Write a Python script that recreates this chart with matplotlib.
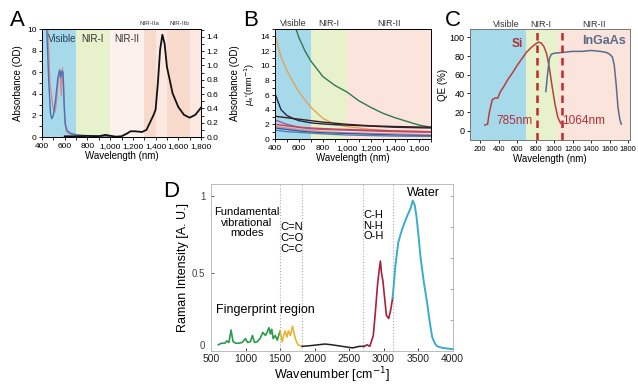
import numpy as np
import matplotlib
matplotlib.use('Agg')
import matplotlib.pyplot as plt
from matplotlib.ticker import FuncFormatter, MultipleLocator

plt.rcParams['font.family'] = ['Liberation Sans', 'DejaVu Sans']
plt.rcParams['font.size'] = 7
plt.rcParams['axes.linewidth'] = 0.7
plt.rcParams['xtick.major.width'] = 0.6
plt.rcParams['ytick.major.width'] = 0.6
plt.rcParams['xtick.major.size'] = 2.5
plt.rcParams['ytick.major.size'] = 2.5

# ---- panel A data ----
a_blue_x = [400, 440, 460, 475, 485, 500, 520, 540, 555, 565, 575, 585, 595, 605, 620, 650, 700, 800, 900, 1000]
a_blue_y = [12, 10.5, 5, 2.2, 1.7, 2.0, 3.5, 5.5, 6.2, 5.5, 6.1, 6.0, 3.0, 1.2, 0.6, 0.35, 0.2, 0.12, 0.1, 0.08]
a_pink_x = [400, 450, 470, 495, 515, 530, 545, 558, 570, 580, 590, 600, 615, 640, 700, 800, 1000]
a_pink_y = [12, 10.5, 5, 2.8, 2.3, 3.5, 5.5, 6.2, 3.8, 6.4, 5.0, 1.5, 0.5, 0.3, 0.15, 0.1, 0.08]
a_water_x = [600, 700, 800, 900, 960, 990, 1050, 1100, 1150, 1180, 1220, 1280, 1320, 1350, 1380, 1400,
             1420, 1440, 1460, 1480, 1500, 1550, 1600, 1650, 1700, 1750, 1800]
a_water_y = [0.01, 0.01, 0.015, 0.01, 0.03, 0.02, 0.005, 0.01, 0.05, 0.08, 0.08, 0.07, 0.1, 0.2, 0.3, 0.38,
             0.75, 1.22, 1.43, 1.3, 0.98, 0.61, 0.42, 0.31, 0.27, 0.31, 0.41]

# ---- panel B data (scattering curves) ----
b_green_x = [575, 600, 650, 700, 800, 900, 1000, 1100, 1200, 1300, 1400, 1500, 1600, 1700]
b_green_y = [15, 13.8, 12, 10.6, 8.5, 7.3, 6.4, 5.2, 4.3, 3.5, 2.9, 2.4, 1.9, 1.6]
b_x = [400, 450, 500, 550, 600, 650, 700, 800, 900, 1000, 1200, 1400, 1700]
b_orange = [14.2, 11.2, 9.3, 7.8, 6.4, 5.3, 4.3, 2.8, 2.0, 1.7, 1.3, 1.1, 1.0]
b_navy = [6.2, 4.0, 3.2, 2.8, 2.5, 2.35, 2.2, 2.05, 1.95, 1.9, 1.75, 1.6, 1.5]
b_brown = [3.1, 3.0, 2.9, 2.8, 2.7, 2.6, 2.5, 2.3, 2.15, 2.0, 1.8, 1.7, 1.6]
b_purple = [2.6, 2.3, 2.0, 1.8, 1.6, 1.5, 1.4, 1.3, 1.25, 1.2, 1.1, 1.0, 0.9]
b_red = [2.0, 1.9, 1.8, 1.7, 1.6, 1.55, 1.5, 1.42, 1.35, 1.3, 1.2, 1.1, 1.0]
b_salmon = [1.7, 1.6, 1.5, 1.4, 1.3, 1.2, 1.15, 1.0, 0.92, 0.85, 0.78, 0.7, 0.6]
b_blue = [1.5, 1.4, 1.3, 1.2, 1.1, 1.02, 0.95, 0.85, 0.8, 0.75, 0.65, 0.55, 0.45]
b_steel = [1.2, 1.1, 1.0, 0.95, 0.9, 0.85, 0.8, 0.7, 0.62, 0.55, 0.47, 0.4, 0.35]
b_colors = ['#e0a45c', '#1c2a4c', '#3b1c1c', '#8a64a8', '#d2404e', '#e88a84', '#3a58a8', '#4a86b4']

# ---- panel C data (detector QE) ----
si_x = [250, 280, 300, 330, 360, 390, 420, 460, 500, 550, 600, 650, 700, 750, 800, 830, 860, 890, 920, 950, 980, 1010, 1040, 1070]
si_y = [6, 7, 20, 33, 35, 35, 42, 48, 55, 62, 70, 77, 84, 89, 93, 95, 94, 90, 82, 66, 46, 28, 14, 8]
ingaas_x = [910, 930, 950, 970, 1000, 1100, 1200, 1300, 1400, 1500, 1560, 1600, 1630, 1650, 1670, 1690, 1710, 1725]
ingaas_y = [42, 62, 78, 82, 83, 84, 85, 85, 86, 85, 84, 82, 79, 70, 50, 25, 12, 7]
laser_lines = [810, 1085]

# ---- panel D data (Raman spectrum) ----
d_fp_x = [606, 650, 700, 730, 760, 790, 820, 860, 900, 950, 1000, 1030, 1070, 1100, 1130, 1170, 1210,
          1250, 1290, 1320, 1340, 1360, 1380, 1400, 1430, 1460, 1500]
d_fp_y = [0.04, 0.05, 0.05, 0.065, 0.055, 0.135, 0.06, 0.05, 0.05, 0.055, 0.08, 0.055, 0.06, 0.1, 0.055, 0.06, 0.08,
          0.12, 0.1, 0.13, 0.15, 0.11, 0.14, 0.08, 0.1, 0.07, 0.13]
d_cn_x = [1500, 1530, 1570, 1600, 1620, 1650, 1680, 1720, 1760, 1820]
d_cn_y = [0.13, 0.06, 0.13, 0.09, 0.13, 0.1, 0.16, 0.08, 0.04, 0.03]
d_mid_x = [1820, 1950, 2050, 2150, 2250, 2400, 2550, 2650, 2720]
d_mid_y = [0.03, 0.035, 0.04, 0.045, 0.04, 0.03, 0.02, 0.03, 0.03]
d_ch_x = [2720, 2760, 2800, 2850, 2880, 2910, 2935, 2953, 2970, 2990, 3010, 3040, 3073, 3100, 3130]
d_ch_y = [0.03, 0.04, 0.03, 0.1, 0.25, 0.42, 0.52, 0.58, 0.5, 0.45, 0.36, 0.23, 0.21, 0.26, 0.34]
d_w_x = [3130, 3170, 3212, 3250, 3287, 3340, 3390, 3422, 3450, 3475, 3510, 3533, 3580, 3630, 3670, 3703, 3740, 3775, 3850, 4000]
d_w_y = [0.34, 0.55, 0.7, 0.76, 0.81, 0.87, 0.92, 0.97, 0.94, 0.87, 0.72, 0.61, 0.45, 0.31, 0.18, 0.09, 0.05, 0.03, 0.02, 0.012]
d_lines = [1500, 1820, 2700, 3130]

W, H = 638, 385
fig = plt.figure(figsize=(W / 100, H / 100), dpi=100)


def box(l, t, r, b):
    return [l / W, 1 - b / H, (r - l) / W, (b - t) / H]


comma = FuncFormatter(lambda v, p: f'{v:,.0f}')
c_blue, c_green, c_pink = '#a6daea', '#e7f1cc', '#fbe4dc'

# ================= A =================
ax = fig.add_axes(box(42, 29, 201, 137))
bands = [(400, 700, c_blue), (700, 1000, c_green), (1000, 1300, '#fdf1ed'), (1300, 1400, '#f8dacd'),
         (1400, 1500, '#fbe8e1'), (1500, 1700, '#f8dacd'), (1700, 1800, '#fbe8e1')]
for x0, x1, c in bands:
    ax.axvspan(x0, x1, color=c, lw=0)
ax.plot(a_pink_x, a_pink_y, color='#d98a98', lw=1)
ax.plot(a_blue_x, a_blue_y, color='#4a70b4', lw=1)
ax.set_xlim(400, 1800)
ax.set_ylim(0, 10)
ax.xaxis.set_major_locator(MultipleLocator(200))
ax.xaxis.set_minor_locator(MultipleLocator(100))
ax.yaxis.set_minor_locator(MultipleLocator(1))
ax.xaxis.set_major_formatter(comma)
ax.set_ylabel('Absorbance (OD)', labelpad=3)
ax.set_xlabel('Wavelength (nm)', labelpad=1)
ax.tick_params(labelsize=6, pad=1.5)
ax.text(575, 9.1, 'Visible', ha='center', va='center', fontsize=7, color='#22405a')
ax.text(840, 9.1, 'NIR-I', ha='center', va='center', fontsize=7, color='#333333')
ax.text(1150, 9.1, 'NIR-II', ha='center', va='center', fontsize=7, color='#333333')
ax.text(1345, 10.55, 'NIR-IIa', ha='center', va='center', fontsize=4.5, color='#333333')
ax.text(1610, 10.55, 'NIR-IIb', ha='center', va='center', fontsize=4.5, color='#333333')
ax2 = ax.twinx()
ax2.plot(a_water_x, a_water_y, color='#111111', lw=1.3)
ax2.set_ylim(0, 1.51)
ax2.yaxis.set_major_locator(MultipleLocator(0.2))
ax2.yaxis.set_minor_locator(MultipleLocator(0.1))
ax2.yaxis.set_major_formatter(FuncFormatter(lambda v, p: f'{v:.1f}'))
ax2.tick_params(labelsize=6, pad=1.5)
ax2.set_ylabel('Absorbance (OD)', labelpad=8)
fig.text(10 / W, 1 - 20 / H, 'A', fontsize=16, va='center')

# ================= B =================
ax = fig.add_axes(box(275, 29, 431, 139))
for x0, x1, c in [(400, 700, c_blue), (700, 1000, c_green), (1000, 1700, c_pink)]:
    ax.axvspan(x0, x1, color=c, lw=0)
ax.plot(b_green_x, b_green_y, color='#2e7a52', lw=1)
for ys, c in zip([b_orange, b_navy, b_brown, b_purple, b_red, b_salmon, b_blue, b_steel], b_colors):
    ax.plot(b_x, ys, color=c, lw=1)
ax.set_xlim(400, 1700)
ax.set_ylim(0, 15)
ax.xaxis.set_major_locator(MultipleLocator(200))
ax.xaxis.set_minor_locator(MultipleLocator(100))
ax.yaxis.set_major_locator(MultipleLocator(2))
ax.yaxis.set_minor_locator(MultipleLocator(1))
ax.xaxis.set_major_formatter(comma)
ax.set_ylabel("$\\mu_s$'(mm$^{-1}$)", fontsize=6.5, labelpad=2)
ax.set_xlabel('Wavelength (nm)', labelpad=1)
ax.tick_params(labelsize=6, pad=1.5)
for xx, s in [(550, 'Visible'), (850, 'NIR-I'), (1350, 'NIR-II')]:
    ax.text(xx, 15.8, s, ha='center', va='center', fontsize=6.5, color='#333333')
fig.text(243 / W, 1 - 20 / H, 'B', fontsize=16, va='center')

# ================= C =================
ax = fig.add_axes(box(470, 29, 630, 140))
for x0, x1, c in [(90, 700, c_blue), (700, 1040, c_green), (1040, 1820, c_pink)]:
    ax.axvspan(x0, x1, color=c, lw=0)
ax.plot(si_x, si_y, color='#b8403c', lw=1.1)
ax.plot(ingaas_x, ingaas_y, color='#5a6c8c', lw=1.1)
for xl in laser_lines:
    ax.axvline(xl, color='#c02a2a', lw=1.8, ls=(0, (3, 2)))
ax.set_xlim(90, 1820)
ax.set_ylim(-10, 109)
ax.yaxis.set_major_locator(MultipleLocator(20))
ax.set_xticks(range(200, 1801, 200))
ax.tick_params(axis='x', labelsize=5.5, pad=1.5)
ax.tick_params(axis='y', labelsize=6.5, pad=1.5)
ax.set_ylabel('QE (%)', labelpad=1)
ax.set_xlabel('Wavelength (nm)', labelpad=1)
for sp in ax.spines.values():
    sp.set_color('#777777')
ax.text(600, 93, 'Si', color='#b0303a', fontsize=8.5, fontweight='bold', ha='center', va='center')
ax.text(1540, 96, 'InGaAs', color='#5a6c8c', fontsize=9, fontweight='bold', ha='center', va='center')
ax.text(570, 10, '785nm', color='#b0303a', fontsize=8.5, ha='center', va='center')
ax.text(1320, 10, '1064nm', color='#b0303a', fontsize=8.5, ha='center', va='center')
for xx, s in [(480, 'Visible'), (860, 'NIR-I'), (1430, 'NIR-II')]:
    ax.text(xx, 114, s, ha='center', va='center', fontsize=6.5, color='#333333')
fig.text(445 / W, 1 - 20 / H, 'C', fontsize=16, va='center')

# ================= D =================
ax = fig.add_axes(box(211, 184, 452.7, 351))
for xl in d_lines:
    ax.axvline(xl, color='#aaaaaa', lw=0.8, ls=':')
ax.plot(d_fp_x, d_fp_y, color='#2a9a4c', lw=1.2)
ax.plot(d_cn_x, d_cn_y, color='#e8b432', lw=1.2)
ax.plot(d_mid_x, d_mid_y, color='#222222', lw=1.1)
ax.plot(d_ch_x, d_ch_y, color='#a6223a', lw=1.2)
ax.plot(d_w_x, d_w_y, color='#3aaccc', lw=1.4)
ax.set_xlim(500, 4000)
ax.set_ylim(0, 1.077)
ax.set_xticks(range(500, 4001, 500))
ax.set_yticks([0, 0.5, 1])
ax.set_yticklabels(['0', '0.5', '1'])
ax.get_yticklabels()[0].set_verticalalignment('bottom')
ax.tick_params(axis='x', labelsize=7.5, pad=2, colors='#222222', direction='in')
ax.tick_params(axis='y', labelsize=7, pad=4, colors='#444444', direction='in')
for sp in ax.spines.values():
    sp.set_color('#bbbbbb')
sec = ax.secondary_yaxis('right')
sec.set_yticks([0.2, 0.4, 0.6, 0.8, 1.0])
sec.set_yticklabels([])
sec.tick_params(direction='in', colors='#999999')
sec.spines['right'].set_color('#bbbbbb')
ax.set_ylabel('Raman Intensity [A. U.]', fontsize=9, labelpad=2)
ax.set_xlabel('Wavenumber [cm$^{-1}$]', fontsize=9, labelpad=1)
ax.text(1020, 0.93, 'Fundamental\nvibrational\nmodes', ha='center', va='top', fontsize=8, linespacing=1.1)
ax.text(1510, 0.83, 'C=N\nC=O\nC=C', ha='left', va='top', fontsize=8, linespacing=1.1)
ax.text(2710, 0.91, 'C-H\nN-H\nO-H', ha='left', va='top', fontsize=8, linespacing=1.1)
ax.text(3575, 1.02, 'Water', ha='center', va='center', fontsize=9)
ax.text(570, 0.265, 'Fingerprint region', ha='left', va='center', fontsize=9)
fig.text(163 / W, 1 - 191 / H, 'D', fontsize=16, va='center')

fig.savefig('out.png', dpi=100)
